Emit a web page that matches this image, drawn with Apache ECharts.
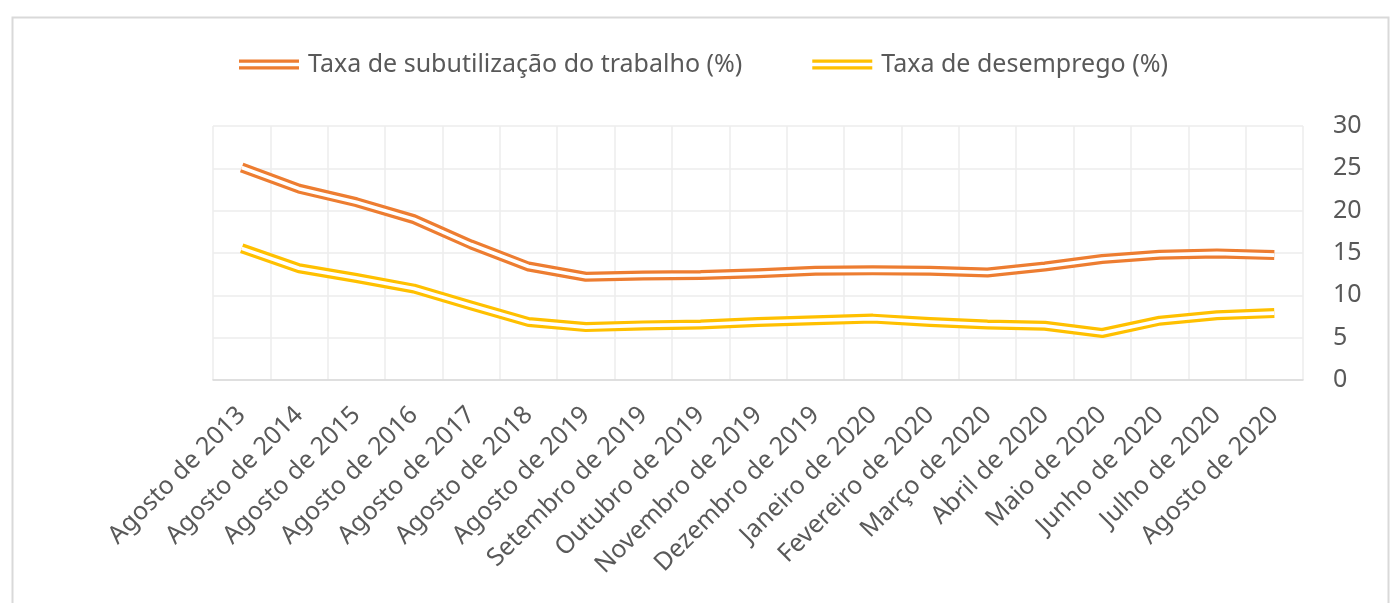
<!DOCTYPE html>
<html>
<head>
<meta charset="utf-8">
<script src="https://cdn.jsdelivr.net/npm/echarts@6/dist/echarts.min.js"></script>
<style>
html,body{margin:0;padding:0;background:#fff;}
#chart{width:1392px;height:603px;}
</style>
</head>
<body>
<div id="chart"></div>
<script>
const categories = [
  'Agosto de 2013','Agosto de 2014','Agosto de 2015','Agosto de 2016','Agosto de 2017',
  'Agosto de 2018','Agosto de 2019','Setembro de 2019','Outubro de 2019','Novembro de 2019',
  'Dezembro de 2019','Janeiro de 2020','Fevereiro de 2020','Março de 2020','Abril de 2020',
  'Maio de 2020','Junho de 2020','Julho de 2020','Agosto de 2020'
];
const subutilizacao = [25.1, 22.6, 21.0, 19.0, 16.0, 13.4, 12.2, 12.35, 12.4, 12.6, 12.9, 12.95, 12.9, 12.7, 13.4, 14.3, 14.8, 14.95, 14.75];
const desemprego = [15.55, 13.2, 12.05, 10.8, 8.8, 6.85, 6.25, 6.45, 6.55, 6.85, 7.05, 7.25, 6.85, 6.55, 6.4, 5.55, 7.0, 7.65, 7.9];
const seriesNames = ['Taxa de subutilização do trabalho (%)', 'Taxa de desemprego (%)'];
const yMin = 0, yMax = 30, yStep = 5;

const chart = echarts.init(document.getElementById('chart'), null, {renderer: 'canvas'});
const FONT = "'Noto Sans', 'Open Sans', sans-serif";
const TXT = '#595959';
const OUTER_W = 10, INNER_W = 3.6;
const doubleIcon = 'path://M0,0H60V3.2H0Z M0,6.8H60V10H0Z';

function pair(name, data, color) {
  return [
    {
      name: name, type: 'line', data: data, color: color,
      symbol: 'none', smooth: false, z: 2,
      lineStyle: {color: color, width: OUTER_W, join: 'round', cap: 'butt'}
    },
    {
      name: name + ' (inner)', type: 'line', data: data, color: '#ffffff',
      symbol: 'none', smooth: false, z: 3, silent: true,
      lineStyle: {color: '#ffffff', width: INNER_W, join: 'round', cap: 'butt'}
    }
  ];
}

chart.setOption({
  animation: false,
  backgroundColor: '#ffffff',
  graphic: [{
    type: 'rect', left: 10, top: 15, z: -10, silent: true,
    shape: {width: 1376, height: 620},
    style: {fill: 'none', stroke: '#d9d9d9', lineWidth: 2}
  }],
  legend: {
    data: seriesNames.map(n => ({name: n, icon: doubleIcon})),
    left: 234, top: 47,
    itemWidth: 64, itemHeight: 10, itemGap: 70,
    textStyle: {fontFamily: FONT, fontSize: 25, color: TXT, padding: [0,0,0,2]}
  },
  grid: {left: 213, right: 89, top: 126, bottom: 223, containLabel: false, outerBoundsMode: 'none'},
  xAxis: {
    type: 'category', data: categories, boundaryGap: true,
    axisLine: {show: true, lineStyle: {color: '#d9d9d9', width: 1.5}},
    axisTick: {show: false},
    splitLine: {show: true, interval: 0, lineStyle: {color: '#ececec', width: 1.5}},
    axisLabel: {interval: 0, rotate: 45, margin: 31, color: TXT, fontFamily: FONT, fontSize: 25}
  },
  yAxis: {
    type: 'value', position: 'right', offset: 28, min: yMin, max: yMax, interval: yStep,
    axisLine: {show: false}, axisTick: {show: false},
    splitLine: {show: true, lineStyle: {color: '#ececec', width: 1.5}},
    axisLabel: {margin: 2, align: 'left', color: TXT, fontFamily: FONT, fontSize: 25}
  },
  series: [].concat(
    pair(seriesNames[0], subutilizacao, '#ED7D31'),
    pair(seriesNames[1], desemprego, '#FFC000')
  )
});
</script>
</body>
</html>
